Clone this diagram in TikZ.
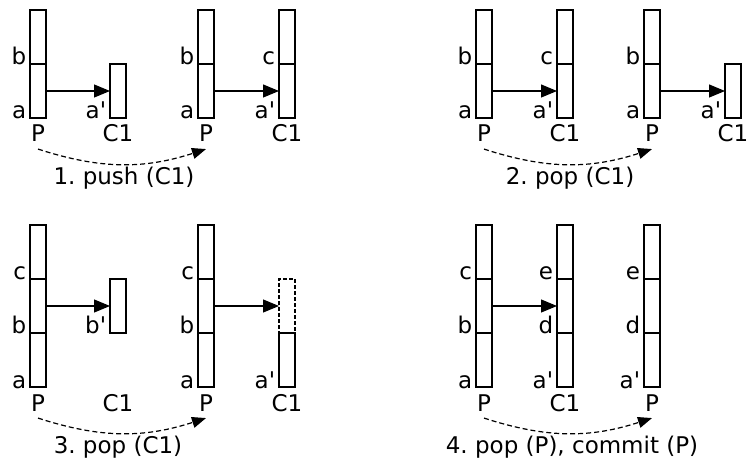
\documentclass[tikz,border=0pt]{standalone}
\usepackage{fontspec}
\setmainfont{DejaVu Sans}
\usetikzlibrary{arrows.meta,positioning}
\newcommand{\pr}{\textquotesingle}
\frenchspacing

\begin{document}
\begin{tikzpicture}[
    x=0.5pt, y=-0.5pt,
    every node/.style={font=\fontsize{11.5}{14}\selectfont},
    cell/.style={rectangle, draw, line width=0.75pt, minimum width=8pt, minimum height=27pt, inner sep=0pt, outer sep=0pt},
    gone/.style={cell, dash pattern=on 2pt off 1pt},
    tag/.style={anchor=base east, inner sep=0pt, xshift=-1.75pt, yshift=-0.5pt},
    stackname/.style={anchor=base, yshift=-12pt},
    steplabel/.style={anchor=base},
    link/.style={-{Triangle[length=8pt, width=6.5pt]}, line width=0.6pt},
    move/.style={-{Triangle[length=7pt, width=5.5pt]}, line width=0.6pt, dash pattern=on 2.5pt off 1.5pt}
]
    \useasboundingbox (0,0) rectangle (749,464);

    % 1. push (C1)
    \node[cell] (bp1a) at (38,91) {};
    \node[cell, above=0pt of bp1a] (bp1b) {};
    \node[cell] (bc1a) at (118,91) {};
    \node[cell] (ap1a) at (206,91) {};
    \node[cell, above=0pt of ap1a] (ap1b) {};
    \node[cell] (ac1a) at (287,91) {};
    \node[cell, above=0pt of ac1a] (ac1b) {};

    \node[tag] (bp1a-t) at (bp1a.south west) {a};
    \node[tag] (bp1b-t) at (bp1b.south west) {b};
    \node[tag] (bc1a-t) at (bc1a.south west) {a\pr};
    \node[tag] (ap1a-t) at (ap1a.south west) {a};
    \node[tag] (ap1b-t) at (ap1b.south west) {b};
    \node[tag] (ac1a-t) at (ac1a.south west) {a\pr};
    \node[tag] (ac1b-t) at (ac1b.south west) {c};

    \node[stackname] (bp1n) at (bp1a.south) {P};
    \node[stackname] (bc1n) at (bc1a.south) {C1};
    \node[stackname] (ap1n) at (ap1a.south) {P};
    \node[stackname] (ac1n) at (ac1a.south) {C1};

    \draw[link] (bp1a.east) -- (bc1a.west);
    \draw[link] (ap1a.east) -- (ac1a.west);
    \draw[move] (bp1n.south) to[bend right=18] (ap1n.south);
    \node[steplabel] (s1) at (124,185) {1. push (C1)};

    % 2. pop (C1)
    \node[cell] (bp2a) at (484,91) {};
    \node[cell, above=0pt of bp2a] (bp2b) {};
    \node[cell] (bc2a) at (565,91) {};
    \node[cell, above=0pt of bc2a] (bc2b) {};
    \node[cell] (ap2a) at (652,91) {};
    \node[cell, above=0pt of ap2a] (ap2b) {};
    \node[cell] (ac2a) at (733,91) {};

    \node[tag] (bp2a-t) at (bp2a.south west) {a};
    \node[tag] (bp2b-t) at (bp2b.south west) {b};
    \node[tag] (bc2a-t) at (bc2a.south west) {a\pr};
    \node[tag] (bc2b-t) at (bc2b.south west) {c};
    \node[tag] (ap2a-t) at (ap2a.south west) {a};
    \node[tag] (ap2b-t) at (ap2b.south west) {b};
    \node[tag] (ac2a-t) at (ac2a.south west) {a\pr};

    \node[stackname] (bp2n) at (bp2a.south) {P};
    \node[stackname] (bc2n) at (bc2a.south) {C1};
    \node[stackname] (ap2n) at (ap2a.south) {P};
    \node[stackname] (ac2n) at (ac2a.south) {C1};

    \draw[link] (bp2a.east) -- (bc2a.west);
    \draw[link] (ap2a.east) -- (ac2a.west);
    \draw[move] (bp2n.south) to[bend right=18] (ap2n.south);
    \node[steplabel] (s2) at (570,185) {2. pop (C1)};

    % 3. pop (C1)
    \node[cell] (bp3a) at (38,360) {};
    \node[cell, above=0pt of bp3a] (bp3b) {};
    \node[cell, above=0pt of bp3b] (bp3c) {};
    \node[cell] (bc3b) at (118,306) {};
    \node[cell] (ap3a) at (206,360) {};
    \node[cell, above=0pt of ap3a] (ap3b) {};
    \node[cell, above=0pt of ap3b] (ap3c) {};
    \node[cell] (ac3a) at (287,360) {};
    \node[gone, above=0pt of ac3a] (ac3b) {};

    \node[tag] (bp3a-t) at (bp3a.south west) {a};
    \node[tag] (bp3b-t) at (bp3b.south west) {b};
    \node[tag] (bp3c-t) at (bp3c.south west) {c};
    \node[tag] (bc3b-t) at (bc3b.south west) {b\pr};
    \node[tag] (ap3a-t) at (ap3a.south west) {a};
    \node[tag] (ap3b-t) at (ap3b.south west) {b};
    \node[tag] (ap3c-t) at (ap3c.south west) {c};
    \node[tag] (ac3a-t) at (ac3a.south west) {a\pr};

    \node[stackname] (bp3n) at (bp3a.south) {P};
    \node[stackname] (bc3n) at (bc3b.south |- bp3a.south) {C1};
    \node[stackname] (ap3n) at (ap3a.south) {P};
    \node[stackname] (ac3n) at (ac3a.south) {C1};

    \draw[link] (bp3b.east) -- (bc3b.west);
    \draw[link] (ap3b.east) -- (ac3b.west);
    \draw[move] (bp3n.south) to[bend right=18] (ap3n.south);
    \node[steplabel] (s3) at (118,453) {3. pop (C1)};

    % 4. pop (P), commit (P)
    \node[cell] (bp4a) at (484,360) {};
    \node[cell, above=0pt of bp4a] (bp4b) {};
    \node[cell, above=0pt of bp4b] (bp4c) {};
    \node[cell] (bc4a) at (565,360) {};
    \node[cell, above=0pt of bc4a] (bc4b) {};
    \node[cell, above=0pt of bc4b] (bc4c) {};
    \node[cell] (ap4a) at (652,360) {};
    \node[cell, above=0pt of ap4a] (ap4b) {};
    \node[cell, above=0pt of ap4b] (ap4c) {};

    \node[tag] (bp4a-t) at (bp4a.south west) {a};
    \node[tag] (bp4b-t) at (bp4b.south west) {b};
    \node[tag] (bp4c-t) at (bp4c.south west) {c};
    \node[tag] (bc4a-t) at (bc4a.south west) {a\pr};
    \node[tag] (bc4b-t) at (bc4b.south west) {d};
    \node[tag] (bc4c-t) at (bc4c.south west) {e};
    \node[tag] (ap4a-t) at (ap4a.south west) {a\pr};
    \node[tag] (ap4b-t) at (ap4b.south west) {d};
    \node[tag] (ap4c-t) at (ap4c.south west) {e};

    \node[stackname] (bp4n) at (bp4a.south) {P};
    \node[stackname] (bc4n) at (bc4a.south) {C1};
    \node[stackname] (ap4n) at (ap4a.south) {P};

    \draw[link] (bp4b.east) -- (bc4b.west);
    \draw[move] (bp4n.south) to[bend right=18] (ap4n.south);
    \node[steplabel] (s4) at (572,453) {4. pop (P), commit (P)};
\end{tikzpicture}
\end{document}
